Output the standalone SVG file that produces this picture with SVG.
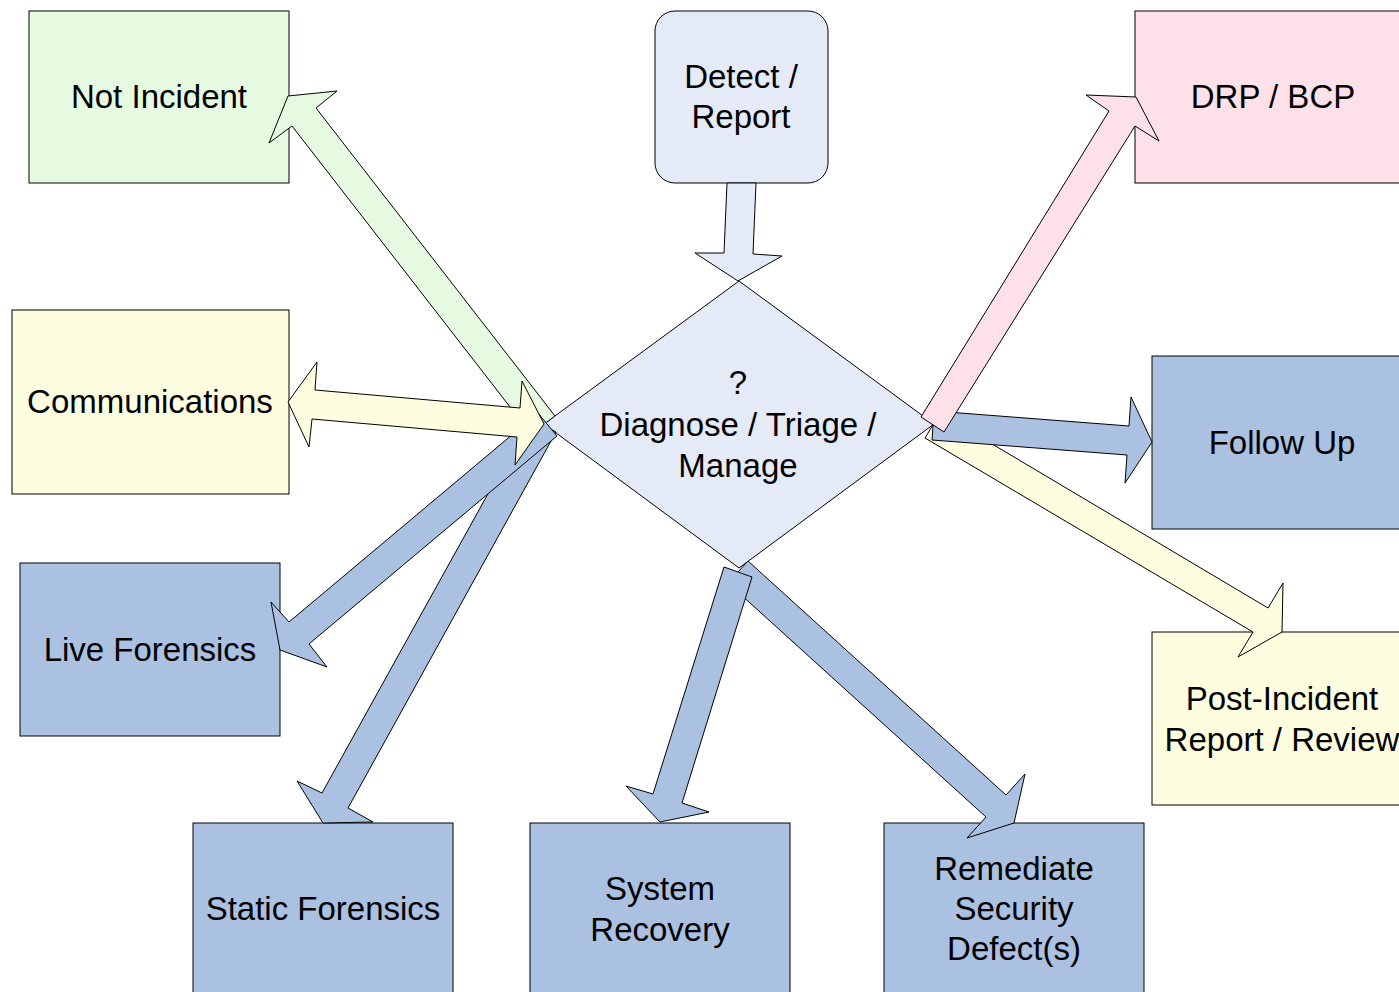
<svg xmlns="http://www.w3.org/2000/svg" width="1399" height="992" viewBox="0 0 1399 992">
<style>
.n{stroke:#000;stroke-width:1}
.c{stroke:#000;stroke-width:1;stroke-linejoin:miter}
.t{font-family:"Liberation Sans",Arial,sans-serif;font-size:33px;fill:#000;text-anchor:middle}
.g{fill:#e5fae0}.y{fill:#fdfde0}.p{fill:#fde0e8}.b{fill:#abc1e1}.l{fill:#e4ebf7}
</style>
<rect width="1399" height="992" fill="#fff"/>
<g id="nodes">
<g id="not-incident"><rect class="n g" x="29" y="11" width="260" height="172"/><text class="t" x="159" y="108">Not Incident</text></g>
<g id="detect-report"><rect class="n l" x="655" y="11" width="173" height="172" rx="20"/><text class="t" x="741" y="88">Detect /</text><text class="t" x="741" y="128">Report</text></g>
<g id="drp-bcp"><rect class="n p" x="1135" y="11" width="280" height="172"/><text class="t" x="1273" y="108">DRP / BCP</text></g>
<g id="communications"><rect class="n y" x="12" y="310" width="277" height="184"/><text class="t" x="150" y="413">Communications</text></g>
<g id="follow-up"><rect class="n b" x="1152" y="356" width="260" height="173"/><text class="t" x="1282" y="454">Follow Up</text></g>
<g id="live-forensics"><rect class="n b" x="20" y="563" width="260" height="173"/><text class="t" x="150" y="661">Live Forensics</text></g>
<g id="post-incident"><rect class="n y" x="1152" y="632" width="260" height="173"/><text class="t" x="1282" y="710">Post-Incident</text><text class="t" x="1282" y="751">Report / Review</text></g>
<g id="static-forensics"><rect class="n b" x="193" y="823" width="260" height="180"/><text class="t" x="323" y="920">Static Forensics</text></g>
<g id="system-recovery"><rect class="n b" x="530" y="823" width="260" height="180"/><text class="t" x="660" y="900">System</text><text class="t" x="660" y="941">Recovery</text></g>
<g id="remediate"><rect class="n b" x="884" y="823" width="260" height="180"/><text class="t" x="1014" y="880">Remediate</text><text class="t" x="1014" y="920">Security</text><text class="t" x="1014" y="960">Defect(s)</text></g>
<g id="diagnose"><polygon class="n l" points="739,281 934,424 739,568 544,424"/><text class="t" x="738" y="394">?</text><text class="t" x="738" y="436">Diagnose / Triage /</text><text class="t" x="738" y="477">Manage</text></g>
</g>
<g id="connectors">
<polygon class="c l" points="727,183 756,183 753,254 782,256 738,281 695,253 724,253"/>
<polygon class="c g" points="555,416 316,108 337,91 288,96 269,143 292,126 531,434"/>
<polygon class="c b" points="556,432 348,808 373,822 323,823 297,781 322,793 530,418"/>
<polygon class="c b" points="557,436 309,644 327,667 280,650 271,602 289,622 538,413"/>
<polygon class="c y" points="288,402 317,362 315,390 520,408 522,381 544,424 515,465 517,437 312,419 309,447"/>
<polygon class="c b" points="748,561 1006,795 1025,774 1014,823 967,838 986,817 728,583"/>
<polygon class="c b" points="724,567 752,577 682,803 709,812 660,822 626,786 653,794"/>
<polygon class="c y" points="940,413 1268,608 1283,583 1282,632 1238,657 1253,632 925,438"/>
<polygon class="c b" points="934,411 1129,426 1131,397 1152,442 1125,483 1127,455 932,440"/>
<polygon class="c p" points="921,417 1109,111 1086,95 1136,97 1159,141 1135,126 944,432"/>
</g>
</svg>
